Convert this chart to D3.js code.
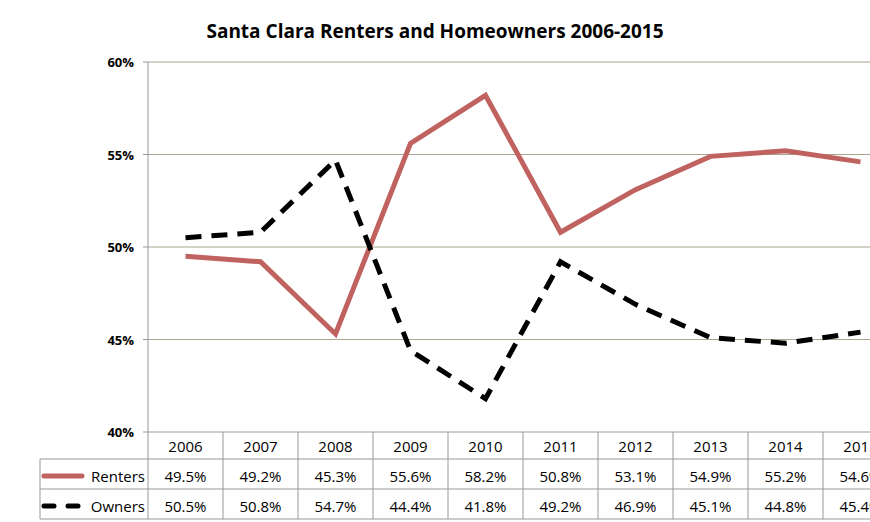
<!DOCTYPE html>
<html>
<head>
<meta charset="utf-8">
<script src="https://cdn.jsdelivr.net/npm/d3@7"></script>
<style>
  body { margin: 0; background: #fff; font-family: "Open Sans", sans-serif; }
</style>
</head>
<body>
<script>
var years = ["2006","2007","2008","2009","2010","2011","2012","2013","2014","2015"];
var renters = [49.5, 49.2, 45.3, 55.6, 58.2, 50.8, 53.1, 54.9, 55.2, 54.6];
var owners = [50.5, 50.8, 54.7, 44.4, 41.8, 49.2, 46.9, 45.1, 44.8, 45.4];
var yTicks = [40, 45, 50, 55, 60];

var svg = d3.select("body").append("svg").attr("width", 870).attr("height", 522);

var x = d3.scaleBand().domain(years).range([148, 898]);
var y = d3.scaleLinear().domain([40, 60]).range([432, 62]);
var cx = function(d, i) { return x(years[i]) + x.bandwidth() / 2; };

svg.append("text").attr("x", 435).attr("y", 38).attr("text-anchor", "middle")
   .attr("font-size", "19px").attr("font-weight", "bold").attr("fill", "#000")
   .text("Santa Clara Renters and Homeowners 2006-2015");

// gridlines
svg.selectAll(".grid").data(yTicks.slice(1)).enter().append("line")
   .attr("x1", 148).attr("x2", 870).attr("y1", d => y(d)).attr("y2", d => y(d))
   .attr("stroke", "#a8a890").attr("stroke-width", 1.2);

// y ticks + labels
svg.selectAll(".tick").data(yTicks).enter().append("line")
   .attr("x1", 143).attr("x2", 148).attr("y1", d => y(d)).attr("y2", d => y(d))
   .attr("stroke", "#999");
svg.selectAll(".ylab").data(yTicks).enter().append("text")
   .attr("x", 134).attr("y", d => y(d) + 5).attr("text-anchor", "end")
   .attr("font-size", "13px").attr("font-weight", "bold").text(d => d + "%");

// lines
var line = d3.line().x(cx).y(d => y(d));
svg.append("path").datum(renters).attr("d", line).attr("fill", "none")
   .attr("stroke", "#c0625f").attr("stroke-width", 5);
svg.append("path").datum(owners).attr("d", line).attr("fill", "none")
   .attr("stroke", "#000").attr("stroke-width", 5).attr("stroke-dasharray", "16,10");

// table
var tc = "#999";
svg.append("line").attr("x1", 148).attr("x2", 148).attr("y1", 62).attr("y2", 519).attr("stroke", tc);
svg.append("line").attr("x1", 148).attr("x2", 870).attr("y1", 432).attr("y2", 432).attr("stroke", tc);
[459, 489, 519].forEach(function(yy) {
  svg.append("line").attr("x1", 40).attr("x2", 870).attr("y1", yy).attr("y2", yy).attr("stroke", tc);
});
svg.append("line").attr("x1", 40).attr("x2", 40).attr("y1", 459).attr("y2", 519).attr("stroke", tc);
svg.selectAll(".col").data(years.slice(1)).enter().append("line")
   .attr("x1", d => x(d)).attr("x2", d => x(d)).attr("y1", 432).attr("y2", 519).attr("stroke", tc);

function row(vals, yy, fmt) {
  svg.selectAll(null).data(vals).enter().append("text")
     .attr("x", cx).attr("y", yy).attr("text-anchor", "middle")
     .attr("font-size", "15px").text(fmt);
}
row(years, 452, d => d);
row(renters, 482, d => d.toFixed(1) + "%");
row(owners, 512, d => d.toFixed(1) + "%");

// legend keys
svg.append("line").attr("x1", 44).attr("x2", 82).attr("y1", 476).attr("y2", 476)
   .attr("stroke", "#c0625f").attr("stroke-width", 5).attr("stroke-linecap", "round");
svg.append("text").attr("x", 145).attr("y", 482).attr("text-anchor", "end").attr("font-size", "15px").text("Renters");
svg.append("line").attr("x1", 44).attr("x2", 82).attr("y1", 506).attr("y2", 506)
   .attr("stroke", "#000").attr("stroke-width", 5).attr("stroke-linecap", "round").attr("stroke-dasharray", "10,14");
svg.append("text").attr("x", 145).attr("y", 512).attr("text-anchor", "end").attr("font-size", "15px").text("Owners");
</script>
</body>
</html>
